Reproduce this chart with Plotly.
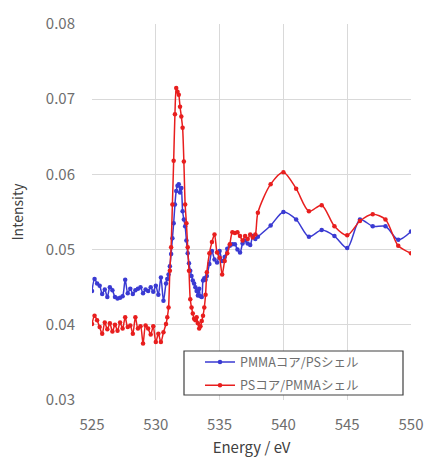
import plotly.graph_objects as go

energy = [
    525.0, 525.2, 525.4, 525.6, 525.8, 526.0, 526.2, 526.4, 526.6, 526.8,
    527.0, 527.2, 527.4, 527.6, 527.8, 528.0, 528.2, 528.4, 528.6, 528.8,
    529.0, 529.2, 529.4, 529.6, 529.8, 530.0, 530.2, 530.4, 530.6, 530.8,
    530.9, 531.0, 531.1, 531.2, 531.3, 531.4, 531.5, 531.6, 531.7, 531.8,
    531.9, 532.0, 532.1, 532.2, 532.3, 532.4, 532.5, 532.6, 532.7, 532.8,
    532.9, 533.0, 533.1, 533.2, 533.3, 533.4, 533.5, 533.6, 533.7, 533.8,
    533.9, 534.0,
    534.2, 534.4, 534.6, 534.8, 535.0, 535.2, 535.4, 535.6, 535.8, 536.0,
    536.2, 536.4, 536.6, 536.8, 537.0, 537.2, 537.4, 537.6, 537.8,
    538, 539, 540, 541, 542, 543, 544, 545, 546, 547, 548, 549, 550,
]

pmma_core_ps_shell = [
    0.0445, 0.0461, 0.0455, 0.0452, 0.0441, 0.0447, 0.0437, 0.0450, 0.0446, 0.0437,
    0.0435, 0.0436, 0.0438, 0.0460, 0.0442, 0.0448, 0.0441, 0.0446, 0.0448, 0.0450,
    0.0442, 0.0447, 0.0445, 0.0450, 0.0444, 0.0452, 0.0440, 0.0463, 0.0432, 0.0455,
    0.0461, 0.0467, 0.0478, 0.0494, 0.0515, 0.0535, 0.0560, 0.0578, 0.0585, 0.0587,
    0.0576, 0.0582, 0.0551, 0.0540, 0.0531, 0.0512, 0.0495, 0.0482, 0.0472, 0.0465,
    0.0459, 0.0455, 0.0450, 0.0445, 0.0439, 0.0448, 0.0438, 0.0437, 0.0459, 0.0462,
    0.0460, 0.0465,
    0.0481, 0.0498, 0.0487, 0.0483, 0.0498, 0.0485, 0.0490, 0.0501, 0.0505, 0.0507,
    0.0507, 0.0500, 0.0496, 0.0508, 0.0512, 0.0508, 0.0506, 0.0518, 0.0514,
    0.0517, 0.0532, 0.0550, 0.0540, 0.0517, 0.0526, 0.0518, 0.0502, 0.0540, 0.0531,
    0.0531, 0.0513, 0.0524,
]

ps_core_pmma_shell = [
    0.0401, 0.0412, 0.0406, 0.0397, 0.0388, 0.0403, 0.0394, 0.0402, 0.0391, 0.0400,
    0.0392, 0.0403, 0.0395, 0.0410, 0.0397, 0.0399, 0.0388, 0.0410, 0.0395, 0.0398,
    0.0375, 0.0399, 0.0395, 0.0387, 0.0398, 0.0377, 0.0388, 0.0377, 0.0390, 0.0401,
    0.0410, 0.0423, 0.0472, 0.0503, 0.0560, 0.0618, 0.0680, 0.0715, 0.0710, 0.0706,
    0.0690, 0.0677, 0.0662, 0.0617, 0.0560, 0.0535, 0.0503, 0.0472, 0.0434, 0.0423,
    0.0415, 0.0408, 0.0406, 0.0410, 0.0402, 0.0395, 0.0398, 0.0405, 0.0412, 0.0423,
    0.0440, 0.0470,
    0.0495, 0.0510, 0.0520, 0.0496, 0.0489, 0.0467, 0.0485, 0.0495, 0.0507, 0.0523,
    0.0522, 0.0523, 0.0518, 0.0512, 0.0518, 0.0514, 0.0520, 0.0516, 0.0520,
    0.0549, 0.0587, 0.0603, 0.0581, 0.0551, 0.0559, 0.0531, 0.0519, 0.0538, 0.0547,
    0.0540, 0.0505, 0.0495,
]

series_names = ["PMMAコア/PSシェル", "PSコア/PMMAシェル"]
colors = ["#3a3ad2", "#e81e1e"]

FONT = "Noto Sans CJK JP"
GRAY = "#6e6e6e"

fig = go.Figure()
for i, (name, ys, c) in enumerate(zip(series_names, [pmma_core_ps_shell, ps_core_pmma_shell], colors)):
    fig.add_trace(go.Scatter(
        x=energy, y=ys, name=name, mode="lines+markers", legendgroup=f"g{i}",
        line=dict(color=c, width=1.5, shape="spline", smoothing=0.8),
        marker=dict(color=c, size=4.5),
    ))

fig.update_layout(
    width=428, height=459,
    margin=dict(l=92, r=17, t=24, b=59, autoexpand=False),
    paper_bgcolor="white", plot_bgcolor="white",
    font=dict(family=FONT, color=GRAY, size=15),
    showlegend=True,
    legend=dict(
        x=(200 - 92) / 319, y=0.140, xanchor="left", yanchor="top",
        bgcolor="rgba(0,0,0,0)", borderwidth=0,
        font=dict(family=FONT, size=12.5, color=GRAY),
        traceorder="grouped", tracegroupgap=4, itemwidth=30,
    ),
    shapes=[dict(
        type="rect", xref="paper", yref="paper",
        x0=(184 - 92) / 319, x1=(403 - 92) / 319,
        y0=(400 - 395) / 376, y1=(400 - 351) / 376,
        line=dict(color="#404040", width=1.2), fillcolor="white", layer="above",
    )],
)

fig.update_xaxes(
    range=[525, 550], dtick=5, tick0=525, automargin=False,
    showgrid=True, gridcolor="#d9d9d9", gridwidth=1,
    zeroline=False, showline=False, ticks="",
    ticklabelstandoff=14,
    title=dict(text="Energy / eV", font=dict(size=15, color="#404040"), standoff=9),
    tickfont=dict(size=15, color=GRAY),
)
fig.update_yaxes(
    range=[0.03, 0.08], dtick=0.01, tick0=0.03, tickformat=".2f", automargin=False,
    showgrid=True, gridcolor="#d9d9d9", gridwidth=1,
    zeroline=False, showline=False, ticks="",
    ticklabelstandoff=16,
    title=dict(text="Intensity", font=dict(size=14, color="#404040"), standoff=18),
    tickfont=dict(size=15, color=GRAY),
)

fig.write_html(
    "out.html",
    config={"displayModeBar": False},
    post_script="document.body.style.margin='0';document.body.style.overflow='hidden';",
)
